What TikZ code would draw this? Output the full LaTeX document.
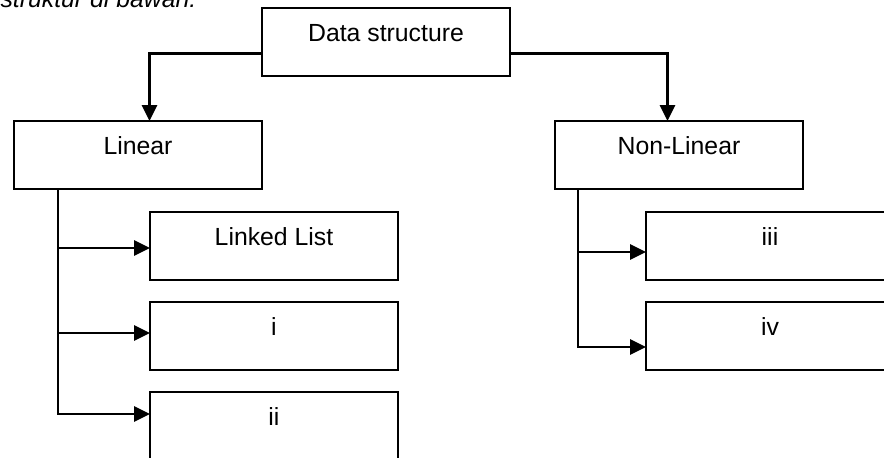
\documentclass[tikz,border=0pt]{standalone}
\usepackage{fontspec}
\setmainfont{Liberation Sans}
\usetikzlibrary{arrows.meta,positioning}

\begin{document}
\begin{tikzpicture}[
    x=1pt, y=1pt,
    node distance=22pt,
    block/.style={rectangle, draw, line width=2.2pt, outer sep=0pt, minimum width=248pt, text height=33pt, text depth=35pt, inner ysep=0pt, font=\fontsize{24.8}{29}\selectfont},
    line/.style={line width=2.8pt},
    arrow/.style={line, -{Triangle[length=16pt,width=15pt]}}
]
\useasboundingbox (0,0) rectangle (884,-458);
\clip (0,0) rectangle (884,-458);

% teks di atas
\node[anchor=base west, font=\itshape\fontsize{24.8}{29}\selectfont] (intro) at (-3,-7) {struktur di bawah:};

% kotak
\node[block, anchor=north] (ds) at (386,-8) {Data structure};
\node[block, below left=45pt and 0pt of ds.south west] (lin) {Linear};
\node[block, below right=45pt and 45pt of ds.south east] (nl) {Non-Linear};
\node[block, below right=23pt and 136pt of lin.south west] (ll) {Linked List};
\node[block, below=of ll] (ci) {i};
\node[block, below=of ci] (cii) {ii};
\node[block, below right=23pt and 91pt of nl.south west] (ciii) {iii};
\node[block, below=of ciii] (civ) {iv};

% panah
\draw[arrow] ([yshift=-11.5pt]ds.west) -| ([xshift=11.5pt]lin.north);
\draw[arrow] ([yshift=-11.5pt]ds.east) -| ([xshift=-11.5pt]nl.north);
\draw[arrow] ([xshift=44pt]lin.south west) |- ([yshift=-2pt]ll.west);
\draw[arrow] ([xshift=44pt]lin.south west) |- ([yshift=3pt]ci.west);
\draw[arrow] ([xshift=44pt]lin.south west) |- ([yshift=12pt]cii.west);
\draw[arrow] ([xshift=23pt]nl.south west) |- ([yshift=-6pt]ciii.west);
\draw[arrow] ([xshift=23pt]nl.south west) |- ([yshift=-11pt]civ.west);
\end{tikzpicture}
\end{document}
